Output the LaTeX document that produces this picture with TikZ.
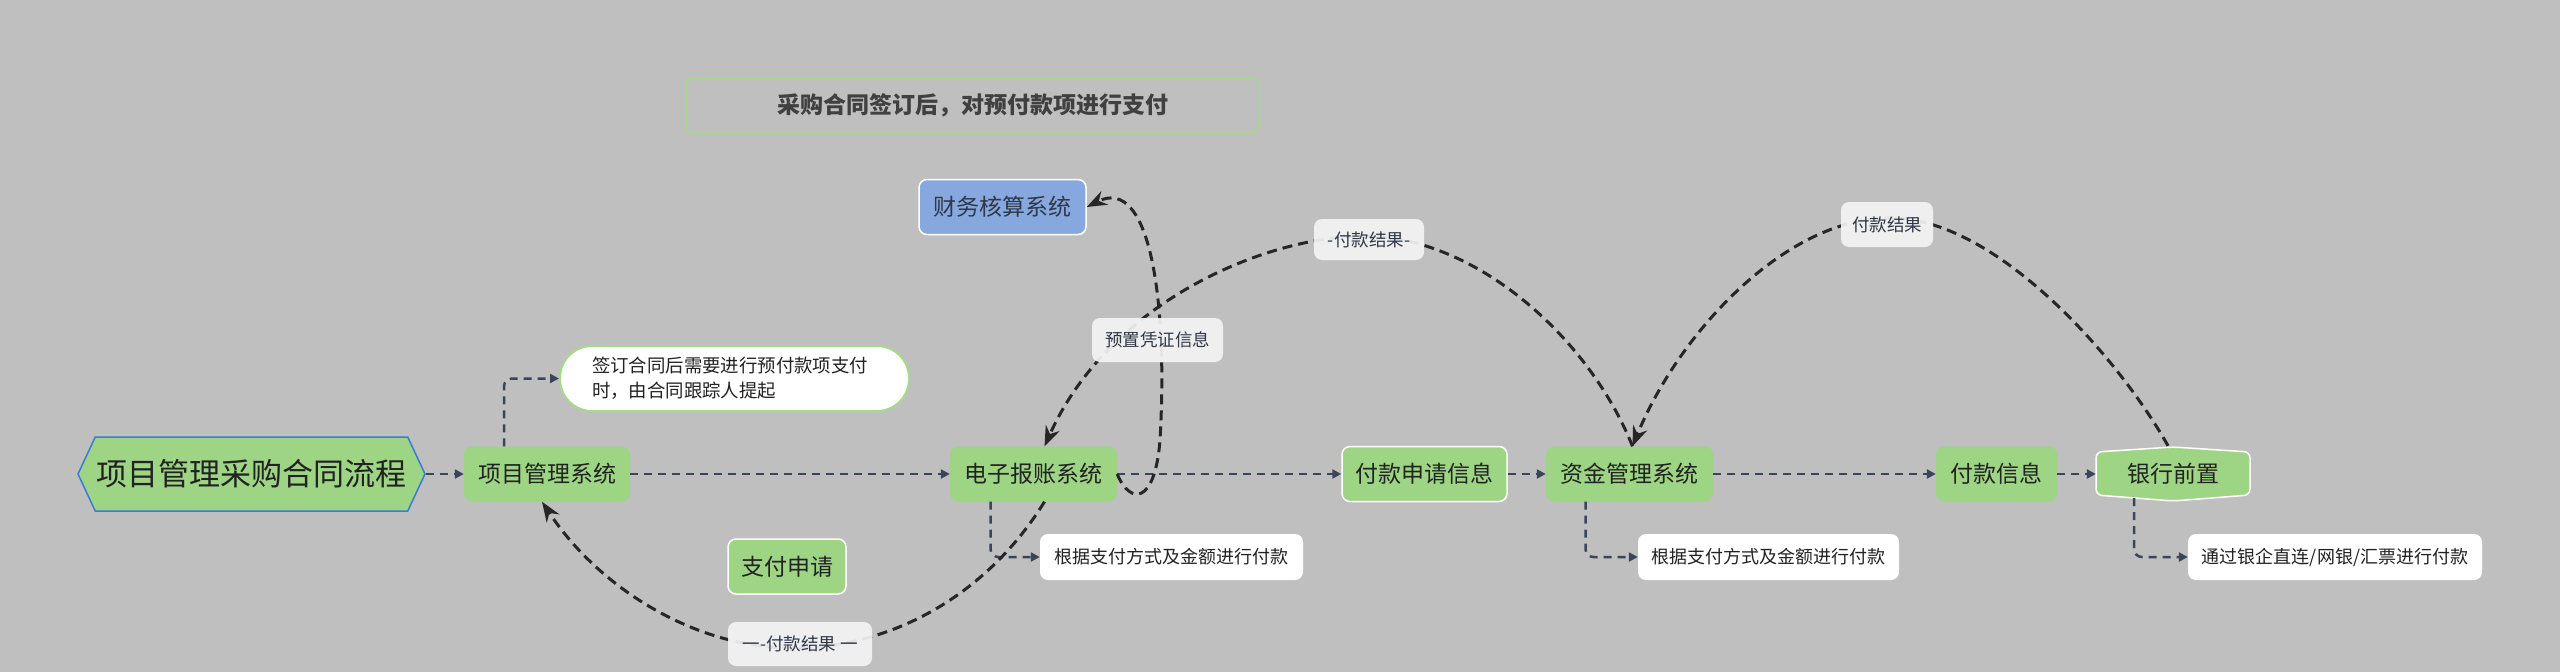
\documentclass[tikz,border=0pt]{standalone}
\usepackage{fontspec}
\setmainfont{Noto Sans CJK SC}
\usetikzlibrary{arrows.meta,shapes.symbols,calc}
\definecolor{bg}{HTML}{BFBFBF}
\definecolor{gfill}{HTML}{9ED585}
\definecolor{bfill}{HTML}{86A8DF}
\definecolor{conn}{HTML}{3A4558}
\definecolor{txt}{HTML}{222222}
\definecolor{lbltxt}{HTML}{2E3847}
\definecolor{lblfill}{HTML}{F4F4F4}
\definecolor{gborder}{HTML}{A6D98C}
\definecolor{hexblue}{HTML}{3A7BD5}
\begin{document}
\begin{tikzpicture}[x=1pt,y=-1pt,
  box/.style={rectangle, rounded corners=8pt, fill=gfill, text=txt, inner sep=0pt, minimum height=55pt, font=\fontsize{23}{27}\selectfont},
  wbox/.style={box, draw=white, line width=1.5pt},
  notebox/.style={rectangle, rounded corners=8pt, fill=white, text=txt, inner sep=0pt, minimum height=46pt, font=\fontsize{18}{22}\selectfont},
  lbl/.style={rectangle, rounded corners=8pt, fill=lblfill, fill opacity=0.92, text opacity=1, text=lbltxt, inner sep=0pt, font=\fontsize{17.5}{21}\selectfont},
  flow/.style={draw=conn, line width=2.5pt, dash pattern=on 8pt off 6pt, -{Triangle[length=9pt,width=9pt]}},
  curve/.style={draw=black!85, line width=3pt, dash pattern=on 10pt off 6pt, -{Stealth[length=20pt,width=15pt]}},
]
\useasboundingbox (0,0) rectangle (2560,672);
\fill[bg] (0,0) rectangle (2560,672);

% title
\node[rectangle, rounded corners=6pt, draw=gborder, line width=1.5pt, minimum width=573pt, minimum height=54pt, inner sep=0pt, text=black!75, font=\fontsize{23}{27}\selectfont\bfseries] (title) at (972.5,105) {采购合同签订后，对预付款项进行支付};

% main nodes
\node[signal, signal to=west and east, signal pointer angle=130, fill=gfill, draw=hexblue, line width=1.5pt, minimum width=347pt, minimum height=74pt, inner sep=0pt, text=txt, font=\fontsize{31}{36}\selectfont] (root) at (251.5,474) {项目管理采购合同流程};
\node[box, minimum width=166pt] (pms) at (547,474) {项目管理系统};
\node[rectangle, rounded corners=32pt, fill=white, draw=gborder, line width=2pt, minimum width=349pt, minimum height=65pt, inner sep=0pt, text width=285pt, align=left, text=txt, font=\fontsize{18.4}{25}\selectfont] (note1) at (734.5,378.5) {签订合同后需要进行预付款项支付\\时，由合同跟踪人提起};
\node[box, minimum width=167pt, fill=bfill, draw=white, line width=1.5pt, text=lbltxt] (fin) at (1002.5,207) {财务核算系统};
\node[box, minimum width=167pt] (ebs) at (1033.5,474) {电子报账系统};
\node[wbox, minimum width=165pt] (payreq) at (1424.5,474) {付款申请信息};
\node[box, minimum width=167pt] (fund) at (1629.5,474) {资金管理系统};
\node[box, minimum width=121pt] (payinfo) at (1996.5,474) {付款信息};
\filldraw[fill=gfill, draw=white, line width=1.5pt, rounded corners=6pt] (2096,452) -- (2173,447) -- (2250,452) -- (2250,495) -- (2173,501) -- (2096,495) -- cycle;
\node[inner sep=0pt, minimum width=154pt, minimum height=56pt, text=txt, font=\fontsize{23}{27}\selectfont] (bank) at (2173,474) {银行前置};
\node[wbox, minimum width=118pt] (zf) at (787,566.5) {支付申请};

% notes
\node[notebox, minimum width=263pt] (n2) at (1171.5,557) {根据支付方式及金额进行付款};
\node[notebox, minimum width=261pt] (n3) at (1768.5,557) {根据支付方式及金额进行付款};
\node[notebox, minimum width=294pt] (n4) at (2335,557) {通过银企直连/网银/汇票进行付款};

% straight flow connectors
\draw[flow] (root.east) -- (pms.west);
\draw[flow, rounded corners=8pt] ($(pms.north)+(-43,0)$) |- (note1.west);
\draw[flow] (pms.east) -- (ebs.west);
\draw[flow] (ebs.east) -- (payreq.west);
\draw[flow] (payreq.east) -- (fund.west);
\draw[flow] (fund.east) -- (payinfo.west);
\draw[flow] (payinfo.east) -- (bank.west);
\draw[flow, rounded corners=8pt] ($(ebs.south)+(-43,0)$) |- (n2.west);
\draw[flow, rounded corners=8pt] ($(fund.south)+(-44,0)$) |- (n3.west);
\draw[flow, rounded corners=8pt] ($(bank.south)+(-39,-4)$) |- (n4.west);

% curved connectors
\draw[curve] (ebs.east) .. controls (1130,505) and (1155,505) .. (1160,440) .. controls (1168,300) and (1150,175) .. (fin.east);
\draw[curve] ($(fund.north)+(3,0)$) .. controls (1590,340) and (1480,240) .. (1370,236) .. controls (1270,234) and (1110,300) .. ($(ebs.north)+(11,0)$);
\draw[curve] ($(bank.north)+(-5,0)$) .. controls (2120,360) and (2000,222) .. (1895,218) .. controls (1790,214) and (1680,330) .. ($(fund.north)+(3,0)$);
\draw[curve] ($(ebs.south)+(11,0)$) .. controls (990,590) and (900,645) .. (800,648) .. controls (700,651) and (600,590) .. ($(pms.south)+(-5,0)$);

% labels
\node[lbl, minimum width=131pt, minimum height=44pt] (l1) at (1157.5,340) {预置凭证信息};
\node[lbl, minimum width=110pt, minimum height=41pt] (l2) at (1369,239.5) {-付款结果-};
\node[lbl, minimum width=92pt, minimum height=45pt] (l3) at (1887,224.5) {付款结果};
\node[lbl, minimum width=144pt, minimum height=44pt] (l4) at (800,644) {一-付款结果 一};
\end{tikzpicture}
\end{document}
